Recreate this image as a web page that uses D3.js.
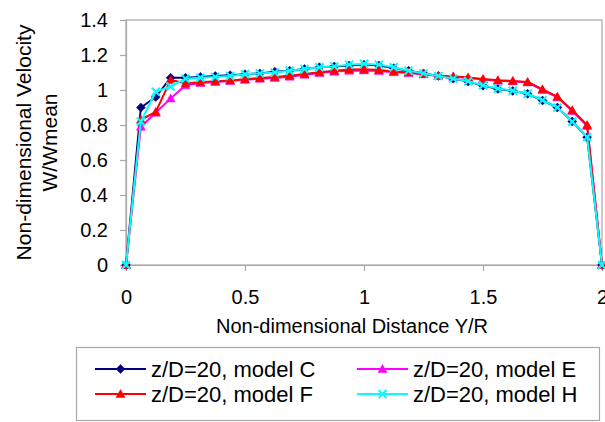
<!DOCTYPE html>
<html>
<head>
<meta charset="utf-8">
<script src="https://cdn.jsdelivr.net/npm/d3@7"></script>
<style>
  html, body { margin: 0; padding: 0; background: #fff; }
  svg { display: block; font-family: "Liberation Sans", Arial, sans-serif; }
</style>
</head>
<body>
<svg id="chart" width="605" height="422"></svg>
<script>
// Non-dimensional position across the duct, Y/R
const distance = [0, 0.0625, 0.125, 0.1875, 0.25, 0.3125, 0.375, 0.4375, 0.5, 0.5625,
  0.625, 0.6875, 0.75, 0.8125, 0.875, 0.9375, 1, 1.0625, 1.125, 1.1875, 1.25, 1.3125,
  1.375, 1.4375, 1.5, 1.5625, 1.625, 1.6875, 1.75, 1.8125, 1.875, 1.9375, 2];

// Velocity profiles W/Wmean at z/D = 20
const modelC = [0, 0.90, 0.96, 1.07, 1.07, 1.075, 1.08, 1.085, 1.09, 1.095, 1.105, 1.11,
  1.12, 1.13, 1.135, 1.14, 1.145, 1.14, 1.125, 1.11, 1.095, 1.08, 1.065, 1.048, 1.025,
  1.006, 0.995, 0.978, 0.94, 0.90, 0.82, 0.73, 0];
const modelE = [0, 0.79, 0.87, 0.952, 1.027, 1.04, 1.046, 1.051, 1.058, 1.064, 1.069,
  1.076, 1.087, 1.097, 1.105, 1.11, 1.112, 1.108, 1.102, 1.097, 1.09, 1.08, 1.075, 1.068,
  1.06, 1.053, 1.05, 1.043, 1.0, 0.958, 0.88, 0.795, 0];
const modelF = [0, 0.83, 0.875, 1.057, 1.038, 1.045, 1.05, 1.055, 1.062, 1.068, 1.074,
  1.082, 1.092, 1.102, 1.11, 1.117, 1.118, 1.114, 1.106, 1.10, 1.092, 1.082, 1.078, 1.072,
  1.063, 1.056, 1.052, 1.046, 1.004, 0.962, 0.884, 0.80, 0];
const modelH = [0, 0.82, 0.99, 1.02, 1.065, 1.07, 1.075, 1.08, 1.09, 1.095, 1.10, 1.11,
  1.12, 1.13, 1.135, 1.145, 1.15, 1.145, 1.13, 1.11, 1.095, 1.08, 1.065, 1.05, 1.027,
  1.008, 0.996, 0.979, 0.941, 0.90, 0.819, 0.731, 0];

const seriesNames = ["z/D=20, model C", "z/D=20, model E", "z/D=20, model F", "z/D=20, model H"];
const seriesColors = ["#000080", "#ff00ff", "#ff0000", "#00ffff"];
const seriesMarkers = ["diamond", "triangle", "triangle", "cross"];
const seriesValues = [modelC, modelE, modelF, modelH];

const xTicks = [0, 0.5, 1, 1.5, 2];
const xTickLabels = ["0", "0.5", "1", "1.5", "2"];
const yTicks = [0, 0.2, 0.4, 0.6, 0.8, 1, 1.2, 1.4];
const yTickLabels = ["0", "0.2", "0.4", "0.6", "0.8", "1", "1.2", "1.4"];

const xTitle = "Non-dimensional Distance Y/R";
const yTitle1 = "Non-dimensional Velocity";
const yTitle2 = "W/Wmean";

const svg = d3.select("#chart");
const plot = { left: 126, right: 602, top: 20, bottom: 265 };

const x = d3.scaleLinear().domain([0, 2]).range([plot.left, plot.right]);
const y = d3.scaleLinear().domain([0, 1.4]).range([plot.bottom, plot.top]);

const axisColor = "#a8a8a8";

// plot area frame
svg.append("rect")
  .attr("x", plot.left).attr("y", plot.top)
  .attr("width", plot.right - plot.left).attr("height", plot.bottom - plot.top)
  .attr("fill", "none").attr("stroke", axisColor).attr("stroke-width", 1.2);

// axes
const yAxis = svg.append("g")
  .attr("transform", `translate(${plot.left},0)`)
  .call(d3.axisLeft(y).tickValues(yTicks).tickSize(6).tickPadding(12)
    .tickFormat((d, i) => yTickLabels[i]));
const xAxis = svg.append("g")
  .attr("transform", `translate(0,${plot.bottom})`)
  .call(d3.axisBottom(x).tickValues(xTicks).tickSize(6).tickPadding(19)
    .tickFormat((d, i) => xTickLabels[i]));

[xAxis, yAxis].forEach(g => {
  g.select(".domain").attr("stroke", axisColor).attr("stroke-width", 1.2);
  g.selectAll(".tick line").attr("stroke", axisColor).attr("stroke-width", 1.2);
  g.selectAll(".tick text").attr("fill", "#000").style("font-size", "20px")
    .style("font-family", "'Liberation Sans', Arial, sans-serif");
});

// axis titles
svg.append("text")
  .attr("x", 352).attr("y", 333)
  .attr("text-anchor", "middle").style("font-size", "20px").text(xTitle);
const yMid = (plot.top + plot.bottom) / 2;
svg.append("text")
  .attr("transform", `translate(31,${yMid}) rotate(-90)`)
  .attr("text-anchor", "middle").style("font-size", "21px").text(yTitle1);
svg.append("text")
  .attr("transform", `translate(57,${yMid}) rotate(-90)`)
  .attr("text-anchor", "middle").style("font-size", "21px").text(yTitle2);

// marker drawing
function drawMarker(g, type, color, cx, cy) {
  if (type === "diamond") {
    g.append("path")
      .attr("d", `M${cx},${cy - 4.5}L${cx + 4.5},${cy}L${cx},${cy + 4.5}L${cx - 4.5},${cy}Z`)
      .attr("fill", color).attr("stroke", color).attr("stroke-width", 0.5);
  } else if (type === "triangle") {
    g.append("path")
      .attr("d", `M${cx},${cy - 4.5}L${cx + 4.5},${cy + 3.5}L${cx - 4.5},${cy + 3.5}Z`)
      .attr("fill", color).attr("stroke", color).attr("stroke-width", 0.5);
  } else {
    g.append("path")
      .attr("d", `M${cx - 4},${cy - 4}L${cx + 4},${cy + 4}M${cx - 4},${cy + 4}L${cx + 4},${cy - 4}`)
      .attr("fill", "none").attr("stroke", color).attr("stroke-width", 2);
  }
}

// series lines and markers
const line = d3.line().x(d => x(d[0])).y(d => y(d[1]));
seriesValues.forEach((vals, s) => {
  const pts = distance.map((d, i) => [d, vals[i]]);
  const g = svg.append("g").attr("class", "series");
  g.append("path").datum(pts).attr("d", line)
    .attr("fill", "none").attr("stroke", seriesColors[s]).attr("stroke-width", 2)
    .attr("stroke-linejoin", "round");
  pts.forEach(p => drawMarker(g, seriesMarkers[s], seriesColors[s], x(p[0]), y(p[1])));
});

// legend
const legend = svg.append("g");
legend.append("rect")
  .attr("x", 76.5).attr("y", 347.5).attr("width", 523).attr("height", 73)
  .attr("fill", "#fff").attr("stroke", axisColor).attr("stroke-width", 1.2);
const legendPos = [
  { lx: 95, ty: 369 }, { lx: 357, ty: 369 },
  { lx: 95, ty: 394 }, { lx: 357, ty: 394 }
];
seriesNames.forEach((name, s) => {
  const p = legendPos[s];
  legend.append("line")
    .attr("x1", p.lx).attr("x2", p.lx + 51).attr("y1", p.ty).attr("y2", p.ty)
    .attr("stroke", seriesColors[s]).attr("stroke-width", 2);
  drawMarker(legend, seriesMarkers[s], seriesColors[s], p.lx + 25.5, p.ty);
  legend.append("text")
    .attr("x", p.lx + 56).attr("y", p.ty).attr("dy", "0.35em")
    .style("font-size", "22px").text(name);
});
</script>
</body>
</html>
